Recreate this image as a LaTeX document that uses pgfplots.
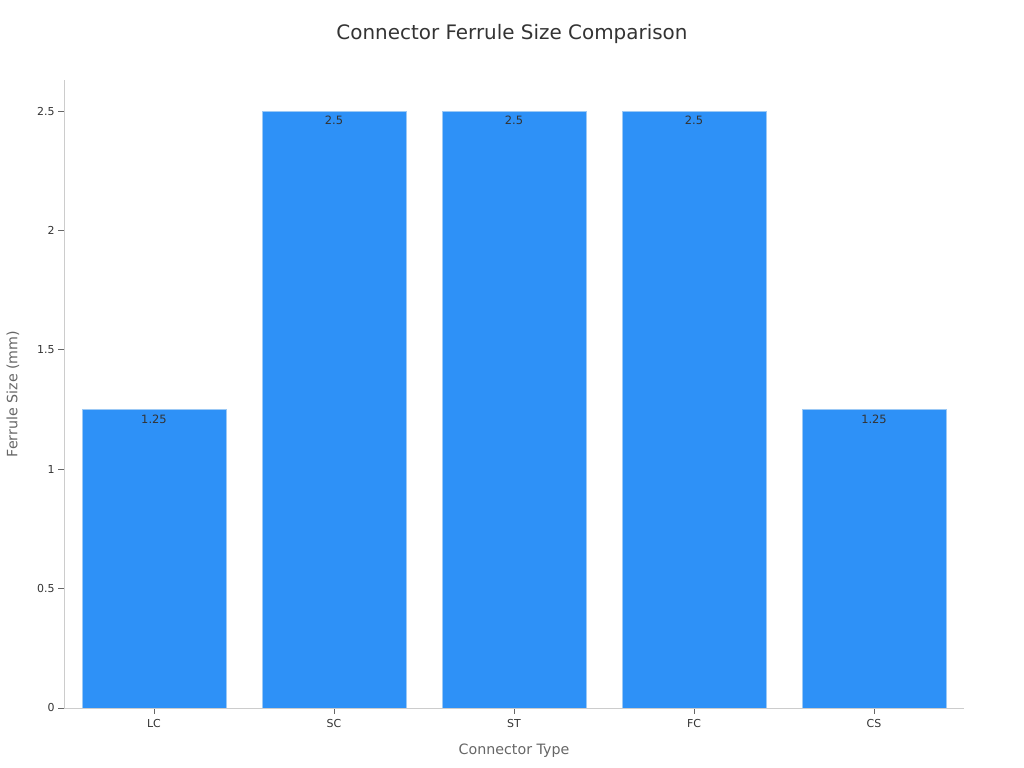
\documentclass[border=0pt]{standalone}
\usepackage{pgfplots}
\pgfplotsset{compat=1.18}
\usepackage{fontspec}
\setmainfont{DejaVu Sans}
\definecolor{barblue}{HTML}{2E91F7}
\definecolor{baredge}{HTML}{9CC9F5}
\definecolor{axisgrey}{HTML}{CCCCCC}
\definecolor{txtdark}{HTML}{333333}
\definecolor{txtgrey}{HTML}{666666}

\begin{document}
\begin{tikzpicture}[x=1bp,y=1bp]
\useasboundingbox (0,0) rectangle (1024,768);
\node[font=\fontsize{20}{23}\selectfont, text=txtdark] at (512,734) {Connector Ferrule Size Comparison};
\begin{axis}[
    at={(64bp,60bp)}, anchor=south west,
    scale only axis,
    width=900bp, height=628bp,
    xmin=-0.5, xmax=4.5,
    ymin=0, ymax=2.63,
    xtick={0,1,2,3,4},
    xticklabels={LC,SC,ST,FC,CS},
    ytick={0,0.5,1,1.5,2,2.5},
    yticklabels={0,0.5,1,1.5,2,2.5},
    axis x line*=bottom,
    axis y line*=left,
    axis line style={axisgrey, line width=0.8bp},
    tick style={txtgrey, line width=0.8bp},
    tick align=outside,
    major tick length=6bp,
    ticklabel style={font=\fontsize{11}{13}\selectfont, text=txtdark},
    xticklabel style={yshift=-2bp},
    xlabel={Connector Type},
    ylabel={Ferrule Size (mm)},
    label style={font=\fontsize{14.3}{16}\selectfont, text=txtgrey},
    xlabel style={at={(axis description cs:0.5,-0.0685)}, anchor=center},
    ylabel style={at={(axis description cs:-0.0567,0.5)}, anchor=center},
    nodes near coords,
    every node near coord/.append style={font=\fontsize{11.5}{13}\selectfont, text=txtdark, anchor=north, yshift=-1.5bp},
    point meta=explicit symbolic,
]
\addplot[ybar, bar width=0.8, fill=barblue, draw=baredge, line width=0.8bp]
    coordinates {
    (0,1.25) [1.25]
    (1,2.5) [2.5]
    (2,2.5) [2.5]
    (3,2.5) [2.5]
    (4,1.25) [1.25]
    };
\end{axis}
\end{tikzpicture}
\end{document}
